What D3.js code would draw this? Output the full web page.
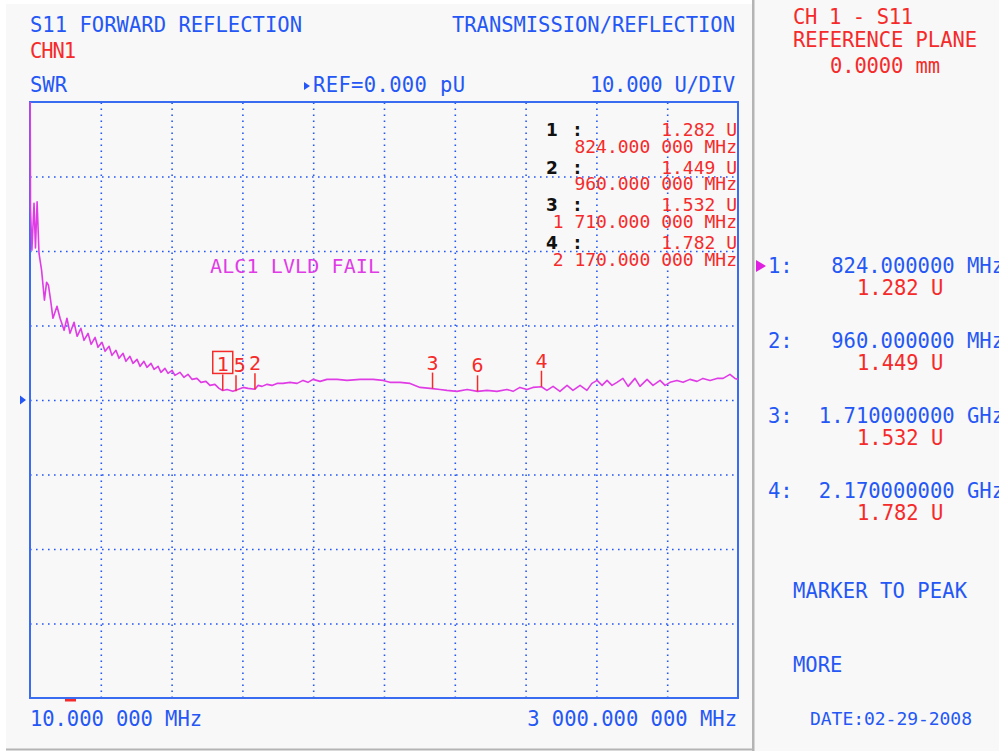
<!DOCTYPE html>
<html>
<head>
<meta charset="utf-8">
<title>S11 Forward Reflection</title>
<script src="https://d3js.org/d3.v7.min.js"></script>
<style>
body { margin: 0; background: #ffffff; }
text { font-family: "DejaVu Sans Mono", monospace; }
</style>
</head>
<body>
<div id="viz"></div>
<script>

// sweep / scale settings shown on the screen
var startMHz = 10, stopMHz = 3000;
var refU = 0, perDiv = 10, divsY = 8, divsX = 10;

// trace: frequency (MHz) and reading (U)
var traceMHz = [10, 12, 18, 27, 33, 40, 48, 59, 71, 80, 88, 97, 107, 124, 137, 154, 166, 179,
  196, 209, 225, 238, 255, 268, 285, 297, 314, 327, 344, 356, 373, 386, 403, 415, 432, 445,
  462, 475, 491, 504, 521, 534, 551, 563, 580, 593, 610, 622, 643, 660, 677, 694, 715, 732,
  753, 770, 791, 808, 824, 842, 867, 888, 910, 931, 960, 973, 990, 1011, 1032, 1053, 1078,
  1108, 1138, 1163, 1184, 1205, 1235, 1264, 1307, 1349, 1404, 1459, 1501, 1530, 1573, 1615,
  1657, 1710, 1741, 1771, 1813, 1856, 1900, 1940, 1982, 2024, 2050, 2079, 2109, 2134, 2170,
  2193, 2219, 2248, 2278, 2303, 2333, 2362, 2383, 2405, 2426, 2447, 2468, 2489, 2514, 2536,
  2565, 2586, 2616, 2641, 2671, 2692, 2713, 2742, 2768, 2797, 2827, 2852, 2882, 2911, 2937,
  2966, 2987, 3000];
var traceU = [48, 25.9, 20.1, 26.4, 20.4, 26.6, 19.7, 17.4, 13.4, 15.8, 15.4, 13.4, 10.97, 12.58,
  10.97, 9.35, 10.97, 8.95, 10.43, 8.55, 9.62, 8.01, 8.95, 7.47, 8.41, 7.07, 7.74, 6.53, 7.2,
  5.99, 6.67, 5.59, 6.26, 5.19, 5.86, 4.92, 5.46, 4.52, 5.19, 4.38, 4.92, 4.11, 4.52, 3.71,
  4.25, 3.58, 3.98, 3.31, 3.71, 3.04, 3.44, 2.77, 2.9, 2.37, 2.5, 1.96, 2.1, 1.56, 1.282, 1.42,
  1.16, 1.42, 1.69, 1.56, 1.449, 1.96, 1.83, 2.1, 1.96, 2.23, 2.23, 2.37, 2.23, 2.63, 2.37,
  2.77, 2.5, 2.77, 2.77, 2.63, 2.77, 2.77, 2.63, 2.37, 2.37, 2.23, 1.69, 1.532, 1.42, 1.29,
  1.16, 1.42, 1.16, 1.29, 1.16, 1.42, 1.16, 1.69, 1.42, 1.69, 1.782, 1.29, 1.83, 1.16, 1.96,
  1.29, 1.96, 1.29, 2.23, 2.63, 1.96, 2.63, 1.96, 2.37, 2.9, 1.83, 2.9, 1.83, 2.77, 1.96, 2.63,
  1.96, 2.37, 2.63, 2.37, 2.77, 2.5, 2.9, 2.63, 2.9, 2.9, 3.44, 2.9, 2.77];

// markers (1-4 have readouts, 5 and 6 only shown on the trace)
var markerIds = ["1", "2", "3", "4", "5", "6"];
var markerMHz = [824, 960, 1710, 2170, 880, 1900];
var markerU = [1.282, 1.449, 1.532, 1.782, 1.16, 1.16];
var listedMarkers = 4;
var activeMarker = "1";

var blue = "#2457f5", red = "#f52a2a", magenta = "#e03ce6";

var margin = {top: 102, left: 30},
    width = 708,
    height = 596;

var svg = d3.select("#viz")
  .append("svg")
    .attr("width", 999)
    .attr("height", 751);

// screen panels
svg.append("rect").attr("x", 6).attr("y", 4).attr("width", 746).attr("height", 745).attr("fill", "#f8f8f8");
svg.append("rect").attr("x", 754).attr("y", 0).attr("width", 245).attr("height", 751).attr("fill", "#f8f8f8");
svg.append("rect").attr("x", 752).attr("y", 0).attr("width", 2.5).attr("height", 751).attr("fill", "#b4b4b4");
svg.append("rect").attr("x", 6).attr("y", 748.5).attr("width", 747).attr("height", 2).attr("fill", "#b4b4b4");

function label(txt, x, y, color, size, anchor) {
  return svg.append("text")
    .attr("x", x).attr("y", y)
    .attr("fill", color)
    .style("font-size", size + "px")
    .attr("text-anchor", anchor || "start")
    .text(txt);
}

// plot readout formatting
function groupMHz(v) {
  var p = v.toFixed(6).split(".");
  return p[0].replace(/\B(?=(\d{3})+(?!\d))/g, " ") + "." + p[1].slice(0, 3) + " " + p[1].slice(3) + " MHz";
}
function panelFreq(v) {
  return v < 1000 ? v.toFixed(6) + " MHz" : (v / 1000).toFixed(9) + " GHz";
}

var x = d3.scaleLinear()
  .domain([startMHz, stopMHz])
  .range([0, width]);

var y = d3.scaleLinear()
  .domain([refU - perDiv * divsY / 2, refU + perDiv * divsY / 2])
  .range([height, 0]);

var g = svg.append("g")
  .attr("transform", "translate(" + margin.left + "," + margin.top + ")");

// dotted graticule
var xGrid = d3.range(1, divsX).map(function(i) { return startMHz + i * (stopMHz - startMHz) / divsX; });
var yGrid = d3.range(1, divsY).map(function(i) { return y.domain()[0] + i * perDiv; });

g.append("g")
  .attr("transform", "translate(0," + height + ")")
  .call(d3.axisBottom(x).tickValues(xGrid).tickSize(-height).tickFormat(""))
  .call(function(a) { a.select(".domain").remove(); })
  .selectAll("line")
    .attr("stroke", blue)
    .attr("stroke-width", 1.6)
    .attr("stroke-dasharray", "1.6,4.4");

g.append("g")
  .call(d3.axisLeft(y).tickValues(yGrid).tickSize(-width).tickFormat(""))
  .call(function(a) { a.select(".domain").remove(); })
  .selectAll("line")
    .attr("stroke", blue)
    .attr("stroke-width", 1.6)
    .attr("stroke-dasharray", "1.6,4.4");

g.append("rect")
  .attr("width", width).attr("height", height)
  .attr("fill", "none")
  .attr("stroke", "#3a6cf2")
  .attr("stroke-width", 2);

g.append("clipPath").attr("id", "clip")
  .append("rect").attr("x", -1).attr("y", 0).attr("width", width + 2).attr("height", height);

// trace
var line = d3.line()
  .x(function(i) { return x(traceMHz[i]); })
  .y(function(i) { return y(traceU[i]); });

g.append("path")
  .attr("clip-path", "url(#clip)")
  .attr("d", line(d3.range(traceMHz.length)))
  .attr("fill", "none")
  .attr("stroke", magenta)
  .attr("stroke-width", 1.6)
  .attr("stroke-linejoin", "round");

// markers on the trace
var lastLabelX = -100;
markerIds.map(function(id, i) { return i; })
  .sort(function(a, b) { return markerMHz[a] - markerMHz[b]; })
  .forEach(function(i) {
    var mx = x(markerMHz[i]), my = y(markerU[i]);
    var lx = Math.max(mx, lastLabelX + 15);
    lastLabelX = lx;
    g.append("line")
      .attr("x1", mx).attr("x2", mx)
      .attr("y1", my).attr("y2", my - 16)
      .attr("stroke", red).attr("stroke-width", 1.5);
    g.append("text")
      .attr("x", lx).attr("y", my - 19)
      .attr("text-anchor", "middle")
      .attr("fill", red)
      .style("font-size", "20px")
      .text(markerIds[i]);
    if (markerIds[i] === activeMarker) {
      g.append("rect")
        .attr("x", lx - 10).attr("y", my - 39)
        .attr("width", 20).attr("height", 22)
        .attr("fill", "none")
        .attr("stroke", red).attr("stroke-width", 1.5);
      lastLabelX = lx + 2;
    }
  });

// marker readouts inside the graticule
for (var i = 0; i < listedMarkers; i++) {
  var by = 136 + i * 37.7;
  svg.append("text")
    .attr("x", 546).attr("y", by)
    .attr("fill", "#111")
    .style("font-family", "DejaVu Sans")
    .style("font-weight", "bold")
    .style("font-size", "17px")
    .text(markerIds[i]);
  svg.append("text")
    .attr("x", 574).attr("y", by)
    .attr("fill", "#111")
    .style("font-family", "DejaVu Sans")
    .style("font-weight", "bold")
    .style("font-size", "17px")
    .text(":");
  label(markerU[i].toFixed(3) + " U", 737, by, red, 18, "end");
  label(groupMHz(markerMHz[i]), 737, by + 16.5, red, 18, "end");
}

label("ALC1 LVLD FAIL", 210, 273, magenta, 20).attr("textLength", 170);

// header lines
label("S11 FORWARD REFLECTION", 30, 32, blue, 20.5).attr("textLength", 272);
label("TRANSMISSION/REFLECTION", 452, 32, blue, 20.5).attr("textLength", 283);
label("CHN1", 30, 58, red, 20.5).attr("textLength", 46);
label("SWR", 30, 92, blue, 20.5);
svg.append("path").attr("d", "M304,82L310,86L304,90Z").attr("fill", blue);
label("REF=" + refU.toFixed(3) + " pU", 313, 92, blue, 20.5).attr("textLength", 152);
label(perDiv.toFixed(3) + " U/DIV", 590, 92, blue, 20.5).attr("textLength", 145);

// reference level pointer and start indicator
svg.append("path")
  .attr("d", "M20," + (margin.top + y(refU) - 4.5) + "L26," + (margin.top + y(refU)) + "L20," + (margin.top + y(refU) + 4.5) + "Z")
  .attr("fill", blue);
svg.append("rect").attr("x", 65).attr("y", margin.top + height + 1).attr("width", 11).attr("height", 2.5).attr("fill", red);

// start / stop
label(groupMHz(startMHz), 30, 726, blue, 20.5).attr("textLength", 172);
label(groupMHz(stopMHz), 737, 726, blue, 20.5, "end");

// right-hand panel
label("CH 1 - S11", 793, 24, red, 20.5).attr("textLength", 120);
label("REFERENCE PLANE", 793, 47, red, 20.5).attr("textLength", 184);
label("0.0000 mm", 830, 73, red, 20.5).attr("textLength", 110);

for (var j = 0; j < listedMarkers; j++) {
  var py = 273 + j * 75;
  label(markerIds[j] + ":", 768, py, blue, 20.5);
  label(panelFreq(markerMHz[j]), 999 + (markerMHz[j] < 1000 ? 5 : 5), py, blue, 20.5, "end");
  label(markerU[j].toFixed(3) + " U", 857, py + 22, red, 20.5);
  if (markerIds[j] === activeMarker) {
    svg.append("path").attr("d", "M756," + (py - 13) + "L766," + (py - 7) + "L756," + (py - 1) + "Z").attr("fill", "#e020e0");
  }
}

label("MARKER TO PEAK", 793, 598, blue, 20.5).attr("textLength", 174);
label("MORE", 793, 672, blue, 20.5);
label("DATE:02-29-2008", 810, 725, blue, 18).attr("textLength", 162);

</script>
</body>
</html>
